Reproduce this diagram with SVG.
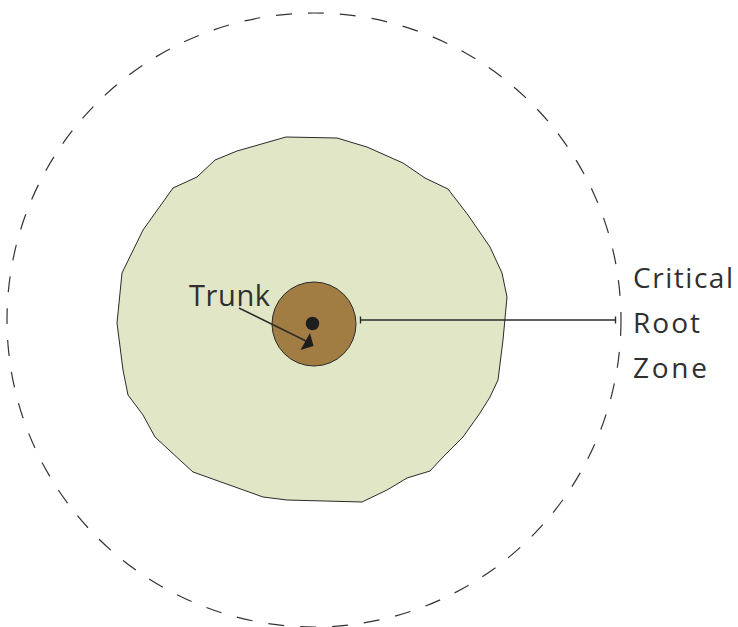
<svg xmlns="http://www.w3.org/2000/svg" width="738" height="627" viewBox="0 0 738 627">
<style>
.lbl{font-family:"Open Sans","Liberation Sans",sans-serif;fill:#2f2f2f}
.ln{stroke:#2b2b2b;stroke-width:1.4;fill:none}
</style>
<rect width="738" height="627" fill="#ffffff"/>
<g id="critical-root-zone-boundary">
<circle cx="314" cy="320" r="307" fill="none" stroke="#333" stroke-width="1.2" stroke-dasharray="16 16"/>
</g>
<g id="canopy">
<polygon points="286,137 337,138 367,147 403,163 425,178 448,189 468,215 490,247 502,273 507,297 503,340 498,380 490,397 480,413 463,437 453,447 443,457 430,471 407,478 387,490 362,502 287,500 263,497 193,472 182,462 155,437 143,415 128,395 123,370 117,323 122,273 143,230 173,188 197,177 215,160 237,151" fill="#e1e6c6" stroke="#2a2a2a" stroke-width="1"/>
</g>
<g id="trunk">
<circle cx="314" cy="324" r="42" fill="#a17d44" stroke="#2a2a2a" stroke-width="1"/>
<circle cx="312.5" cy="323.5" r="6.8" fill="#1e1e1e"/>
</g>
<g id="connectors">
<line class="ln" x1="239" y1="308" x2="306" y2="341"/>
<polygon points="310,333 313.5,346 300.5,350" fill="#1e1e1e"/>
<line class="ln" x1="360.5" y1="320" x2="615.5" y2="320"/>
<line class="ln" x1="360.5" y1="316.5" x2="360.5" y2="323.5"/>
<line class="ln" x1="615.5" y1="316.5" x2="615.5" y2="323.5"/>
</g>
<g id="labels">
<text class="lbl" x="189" y="306" font-size="29" textLength="81" lengthAdjust="spacing">Trunk</text>
<text class="lbl" x="633" y="288" font-size="28" textLength="100" lengthAdjust="spacing">Critical</text>
<text class="lbl" x="633" y="333" font-size="28" textLength="67" lengthAdjust="spacing">Root</text>
<text class="lbl" x="633" y="378" font-size="28" textLength="74" lengthAdjust="spacing">Zone</text>
</g>
</svg>
